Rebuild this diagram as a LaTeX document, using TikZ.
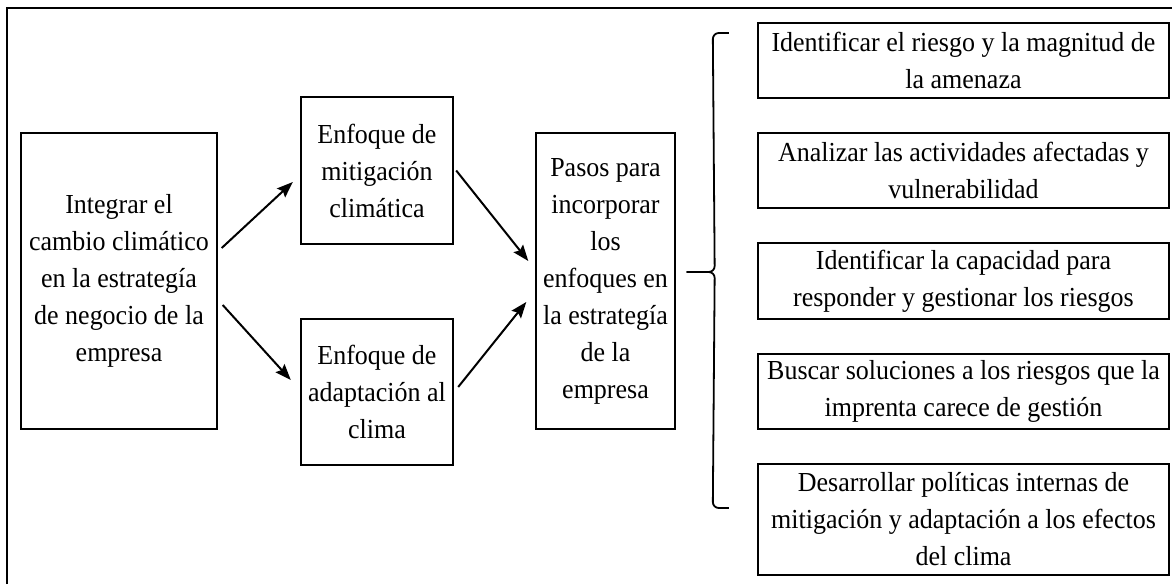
\documentclass[tikz,border=0pt]{standalone}
\usepackage{fontspec}
\setmainfont{Liberation Serif}[FakeStretch=0.945]
\usetikzlibrary{arrows.meta,calc}
\tikzset{
  txt/.style={font={\fontsize{27.5}{37}\selectfont}, align=center, inner sep=0pt, anchor=center},
  thinbox/.style={txt, draw, line width=1.4pt, rectangle},
  thickbox/.style={txt, draw, line width=2.4pt, rectangle},
  conn/.style={line width=2pt, -{Stealth[length=16pt,width=12pt,inset=2.5pt]}},
  frameline/.style={line width=2pt},
  bracket/.style={line width=1.8pt, rounded corners=6pt}
}
\begin{document}
\begin{tikzpicture}[x=1pt,y=-1pt]
\useasboundingbox (0,0) rectangle (1172,584);
% outer frame (cropped: only left and top edges visible)
\draw[frameline] (7,584) -- (7,8) -- (1172,8);

\node[thinbox, minimum width=196pt, minimum height=296pt] (int) at (119,281)
  {Integrar el\\cambio climático\\en la estrategía\\de negocio de la\\empresa};
\node[thickbox, minimum width=152pt, minimum height=147pt] (mit) at (377,170.5)
  {Enfoque de\\mitigación\\climática};
\node[thickbox, minimum width=152pt, minimum height=146pt] (ada) at (377,392)
  {Enfoque de\\adaptación al\\clima};
\node[thinbox, minimum width=139pt, minimum height=296pt] (pasos) at (605.5,281)
  {Pasos para\\incorporar\\los\\enfoques en\\la estrategía\\de la\\empresa};

\node[thickbox, minimum width=411pt, minimum height=75pt] (r1) at (963.5,60.5)
  {Identificar el riesgo y la magnitud de\\la amenaza};
\node[thickbox, minimum width=411pt, minimum height=75pt] (r2) at (963.5,170.5)
  {Analizar las actividades afectadas y\\vulnerabilidad};
\node[thickbox, minimum width=411pt, minimum height=76pt] (r3) at (963.5,281)
  {Identificar la capacidad para\\responder y gestionar los riesgos};
\node[thickbox, minimum width=411pt, minimum height=75pt] (r4) at (963.5,391.5)
  {Buscar soluciones a los riesgos que la\\imprenta carece de gestión};
\node[thickbox, minimum width=411pt, minimum height=111pt] (r5) at (963.5,519.5)
  {Desarrollar políticas internas de\\mitigación y adaptación a los efectos\\del clima};

% arrows
\draw[conn] ([shift={(4,-33)}]int.east) -- ([shift={(-7,11.5)}]mit.west);
\draw[conn] ([shift={(5,24)}]int.east) -- ([shift={(-9,-12)}]ada.west);
\draw[conn] ([shift={(2,0)}]mit.east) -- ([shift={(-7,-20)}]pasos.west);
\draw[conn] ([shift={(4,-5)}]ada.east) -- ([shift={(-9,21)}]pasos.west);

% bracket
\coordinate (btip) at ([shift={(11,-9)}]pasos.east);
\draw[bracket] ([shift={(-28,-27.5)}]r1.west) -- ([shift={(-44,-27.5)}]r1.west) -- ([shift={(28,0)}]btip) -- (btip);
\draw[bracket] (btip) -- ([shift={(28,0)}]btip) -- ([shift={(-44,-11.5)}]r5.west) -- ([shift={(-28,-11.5)}]r5.west);
\end{tikzpicture}
\end{document}
